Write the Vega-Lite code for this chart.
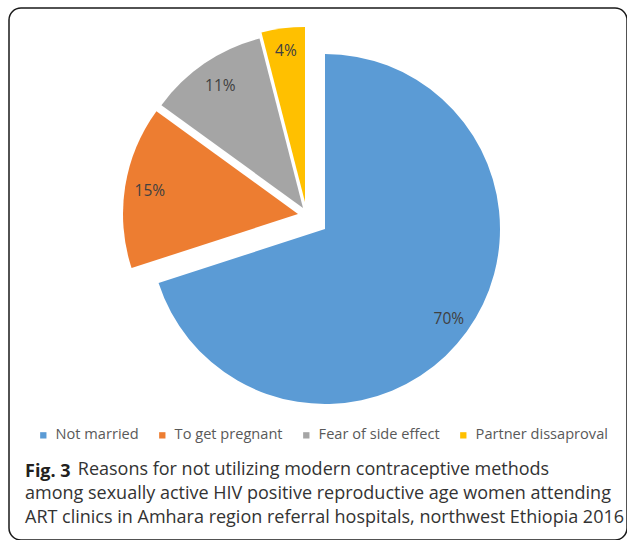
{
  "$schema": "https://vega.github.io/schema/vega-lite/v6.json",
  "width": 618,
  "height": 532,
  "autosize": {"type": "none"},
  "padding": {"left": 9, "top": 8, "right": 0, "bottom": 0},
  "background": "white",
  "view": {"stroke": "#1a1a1a", "strokeWidth": 1.5, "cornerRadius": 12},
  "title": {
    "text": "Fig. 3",
    "subtitle": [
      "\u200b\u2003\u2003\u2002\u2009\u2009\u200aReasons for not utilizing modern contraceptive methods",
      "among sexually active HIV positive reproductive age women attending",
      "ART clinics in Amhara region referral hospitals, northwest Ethiopia 2016"
    ],
    "orient": "bottom",
    "anchor": "start",
    "frame": "group",
    "offset": -77,
    "dx": 16,
    "font": "Open Sans",
    "fontSize": 18,
    "fontWeight": "bold",
    "color": "#231f20",
    "subtitleFont": "Open Sans",
    "subtitleFontSize": 18,
    "subtitleFontWeight": "normal",
    "subtitleColor": "#333333",
    "subtitleLineHeight": 24,
    "subtitlePadding": -20
  },
  "data": {
    "values": [
      {"reason": "Not married", "share": 0.70},
      {"reason": "To get pregnant", "share": 0.15},
      {"reason": "Fear of side effect", "share": 0.11},
      {"reason": "Partner dissaproval", "share": 0.04}
    ]
  },
  "encoding": {
    "theta": {"field": "share", "type": "quantitative", "stack": true},
    "order": {"field": "share", "sort": "descending"},
    "color": {
      "field": "reason",
      "type": "nominal",
      "scale": {
        "domain": ["Not married", "To get pregnant", "Fear of side effect", "Partner dissaproval"],
        "range": ["#5B9BD5", "#ED7D31", "#A5A5A5", "#FFC000"]
      },
      "legend": {
        "title": null,
        "orient": "none",
        "direction": "horizontal",
        "legendX": 27,
        "legendY": 420,
        "symbolType": "square",
        "symbolSize": 40,
        "symbolStrokeWidth": 0,
        "labelFont": "Open Sans",
        "labelFontSize": 14.6,
        "labelColor": "#595959",
        "labelOffset": 5,
        "columnPadding": 16
      }
    }
  },
  "layer": [
    {
      "mark": {"type": "arc", "radius": 175, "xOffset": 7, "yOffset": -45},
      "encoding": {"opacity": {"condition": {"test": "datum.reason === 'Not married'", "value": 1}, "value": 0}}
    },
    {
      "mark": {"type": "arc", "radius": 175, "xOffset": -20, "yOffset": -60},
      "encoding": {"opacity": {"condition": {"test": "datum.reason === 'To get pregnant'", "value": 1}, "value": 0}}
    },
    {
      "mark": {"type": "arc", "radius": 175, "xOffset": -15, "yOffset": -66},
      "encoding": {"opacity": {"condition": {"test": "datum.reason === 'Fear of side effect'", "value": 1}, "value": 0}}
    },
    {
      "mark": {"type": "arc", "radius": 175, "xOffset": -13, "yOffset": -72},
      "encoding": {"opacity": {"condition": {"test": "datum.reason === 'Partner dissaproval'", "value": 1}, "value": 0}}
    },
    {
      "mark": {"type": "text", "radius": 153, "xOffset": 7, "yOffset": -45, "font": "Open Sans", "fontSize": 15.5},
      "encoding": {
        "color": {"value": "#404040"},
        "text": {"condition": {"test": "datum.reason === 'Not married'", "field": "share", "type": "quantitative", "format": ".0%"}, "value": ""}
      }
    },
    {
      "mark": {"type": "text", "radius": 150, "xOffset": -20, "yOffset": -60, "font": "Open Sans", "fontSize": 15.5},
      "encoding": {
        "color": {"value": "#404040"},
        "text": {"condition": {"test": "datum.reason === 'To get pregnant'", "field": "share", "type": "quantitative", "format": ".0%"}, "value": ""}
      }
    },
    {
      "mark": {"type": "text", "radius": 147, "xOffset": -15, "yOffset": -66, "font": "Open Sans", "fontSize": 15.5},
      "encoding": {
        "color": {"value": "#404040"},
        "text": {"condition": {"test": "datum.reason === 'Fear of side effect'", "field": "share", "type": "quantitative", "format": ".0%"}, "value": ""}
      }
    },
    {
      "mark": {"type": "text", "radius": 152, "xOffset": -13, "yOffset": -72, "font": "Open Sans", "fontSize": 15.5},
      "encoding": {
        "color": {"value": "#404040"},
        "text": {"condition": {"test": "datum.reason === 'Partner dissaproval'", "field": "share", "type": "quantitative", "format": ".0%"}, "value": ""}
      }
    }
  ]
}
